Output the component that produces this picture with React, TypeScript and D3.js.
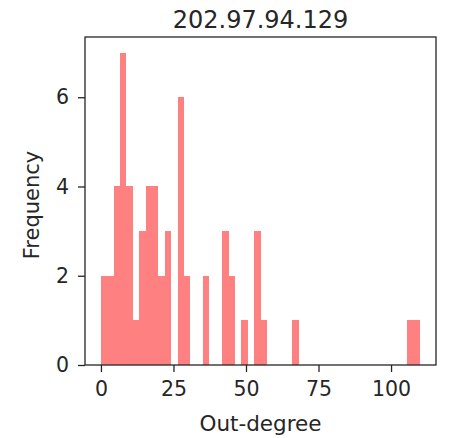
import React, { useRef, useEffect } from "react";
import * as d3 from "d3";

// histogram of out-degree, 50 bins between 0 and 110
const binStart = 0;
const binEnd = 110;
const binCounts = [
  2, 2, 4, 7, 4, 1, 3, 4, 4, 2,
  3, 0, 6, 2, 0, 0, 2, 0, 0, 3,
  2, 0, 1, 0, 3, 1, 0, 0, 0, 0,
  1, 0, 0, 0, 0, 0, 0, 0, 0, 0,
  0, 0, 0, 0, 0, 0, 0, 0, 1, 1,
];
const xTicks = [0, 25, 50, 75, 100];
const yTicks = [0, 2, 4, 6];
const title = "202.97.94.129";
const xLabel = "Out-degree";
const yLabel = "Frequency";

const W = 454;
const H = 438;
const margin = { left: 85, right: 18, top: 37, bottom: 73 };
const font = "DejaVu Sans, sans-serif";

const App = () => {
  const svgRef = useRef(null);

  useEffect(() => {
    const svg = d3.select(svgRef.current);
    svg.selectAll("*").remove();

    const iw = W - margin.left - margin.right;
    const ih = H - margin.top - margin.bottom;
    const span = binEnd - binStart;
    const bw = span / binCounts.length;

    const x = d3.scaleLinear()
      .domain([binStart - span * 0.05, binEnd + span * 0.05])
      .range([0, iw]);
    const y = d3.scaleLinear()
      .domain([0, d3.max(binCounts) * 1.05])
      .range([ih, 0]);

    const g = svg.append("g")
      .attr("transform", `translate(${margin.left},${margin.top})`);

    // bars
    g.selectAll("rect.bar")
      .data(binCounts)
      .enter()
      .append("rect")
      .attr("class", "bar")
      .attr("x", (d, i) => x(binStart + i * bw))
      .attr("width", (d, i) => x(binStart + (i + 1) * bw) - x(binStart + i * bw))
      .attr("y", d => y(d))
      .attr("height", d => ih - y(d))
      .attr("fill", "#ff8080")
      .attr("shape-rendering", "crispEdges");

    // axes
    const xAxis = g.append("g")
      .attr("transform", `translate(0,${ih})`)
      .call(d3.axisBottom(x).tickValues(xTicks).tickSize(7).tickPadding(9).tickFormat(d3.format("d")));
    const yAxis = g.append("g")
      .call(d3.axisLeft(y).tickValues(yTicks).tickSize(7).tickPadding(9).tickFormat(d3.format("d")));
    [xAxis, yAxis].forEach(a => {
      a.select(".domain").remove();
      a.selectAll("text")
        .attr("font-family", font)
        .attr("font-size", 20.5)
        .attr("fill", "#262626");
      a.selectAll("line").attr("stroke", "#262626").attr("stroke-width", 1.3);
    });

    // frame
    g.append("rect")
      .attr("width", iw)
      .attr("height", ih)
      .attr("fill", "none")
      .attr("stroke", "#262626")
      .attr("stroke-width", 1.3);

    svg.append("text")
      .attr("x", margin.left + iw / 2)
      .attr("y", 28)
      .attr("text-anchor", "middle")
      .attr("font-family", font)
      .attr("font-size", 24)
      .attr("fill", "#262626")
      .text(title);

    svg.append("text")
      .attr("x", margin.left + iw / 2)
      .attr("y", 431)
      .attr("text-anchor", "middle")
      .attr("font-family", font)
      .attr("font-size", 21.5)
      .attr("fill", "#262626")
      .text(xLabel);

    svg.append("text")
      .attr("transform", `translate(38.5,${margin.top + ih / 2 + 4}) rotate(-90)`)
      .attr("text-anchor", "middle")
      .attr("font-family", font)
      .attr("font-size", 21)
      .attr("fill", "#262626")
      .text(yLabel);
  }, []);

  return (
    <div style={{ position: "absolute", left: 0, top: 0 }}>
      <svg ref={svgRef} width={W} height={H}></svg>
    </div>
  );
};

export default App;
